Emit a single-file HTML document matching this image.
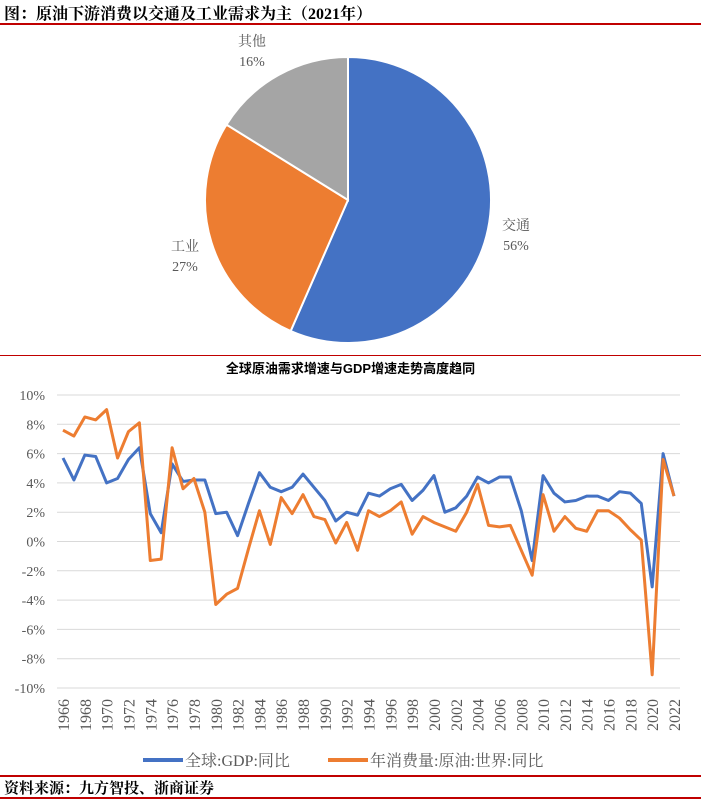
<!DOCTYPE html>
<html><head><meta charset="utf-8">
<style>
body{margin:0;background:#fff;width:701px;height:799px;overflow:hidden;position:relative;font-family:"Liberation Serif","Noto Serif CJK SC",serif}
.hd{position:absolute;left:4px;font-weight:bold;font-size:16px;color:#000;font-family:"Liberation Serif","Noto Serif CJK SC",serif}
.rl{position:absolute;left:0;width:701px;height:2px;background:#c00000}
</style></head><body>
<div class="hd" style="top:1px">图：原油下游消费以交通及工业需求为主（2021年）</div>
<div class="rl" style="top:23px"></div>
<svg style="position:absolute;left:0;top:25px" width="701" height="330" id="pie"></svg>
<div class="rl" style="top:355px;height:1px"></div>
<div style="position:absolute;top:358px;left:0;width:701px;text-align:center;font-weight:bold;font-size:13px;font-family:'Liberation Sans','Noto Sans CJK SC',sans-serif">全球原油需求增速与GDP增速走势高度趋同</div>
<svg style="position:absolute;left:0;top:0" width="701" height="775" id="lc"></svg>
<div class="rl" style="top:775px"></div>
<div class="hd" style="top:777px;font-size:15px">资料来源：九方智投、浙商证券</div>
<div class="rl" style="top:797px"></div>
<script>
const pieLabels=["交通","工业","其他"];
const pieValues=[56,27,16];
const pieColors=["#4472c4","#ed7d31","#a5a5a5"];
const years=[];for(let y=1966;y<=2022;y++)years.push(y);
const gdp=[5.7,4.2,5.9,5.8,4.0,4.3,5.6,6.4,1.9,0.6,5.3,4.1,4.2,4.2,1.9,2.0,0.4,2.6,4.7,3.7,3.4,3.7,4.6,3.7,2.8,1.4,2.0,1.8,3.3,3.1,3.6,3.9,2.8,3.5,4.5,2.0,2.3,3.1,4.4,4.0,4.4,4.4,2.1,-1.3,4.5,3.3,2.7,2.8,3.1,3.1,2.8,3.4,3.3,2.6,-3.1,6.0,3.1];
const oil=[7.6,7.2,8.5,8.3,9.0,5.7,7.5,8.1,-1.3,-1.2,6.4,3.6,4.3,2.0,-4.3,-3.6,-3.2,-0.5,2.1,-0.2,3.0,1.9,3.2,1.7,1.5,-0.1,1.3,-0.6,2.1,1.7,2.1,2.7,0.5,1.7,1.3,1.0,0.7,2.0,3.9,1.1,1.0,1.1,-0.6,-2.3,3.2,0.7,1.7,0.9,0.7,2.1,2.1,1.6,0.8,0.1,-9.1,5.6,3.1];
const yTicks=[10,8,6,4,2,0,-2,-4,-6,-8,-10];
const NS="http://www.w3.org/2000/svg";
function mk(p,t,a){const e=document.createElementNS(NS,t);for(const k in a)e.setAttribute(k,a[k]);p.appendChild(e);return e;}
const pie=document.getElementById('pie');
const cx=348,cy=175,r=143;
const tot=pieValues.reduce((a,b)=>a+b,0);
let ang=0;
const lblPos=[[516,205],[185,226],[252,21]];
pieValues.forEach((v,i)=>{
 const a0=ang/tot*2*Math.PI,a1=(ang+v)/tot*2*Math.PI;ang+=v;
 const x0=cx+r*Math.sin(a0),y0=cy-r*Math.cos(a0),x1=cx+r*Math.sin(a1),y1=cy-r*Math.cos(a1);
 const s=mk(pie,'path',{d:`M${cx},${cy}L${x0},${y0}A${r},${r} 0 ${a1-a0>Math.PI?1:0} 1 ${x1},${y1}Z`,fill:pieColors[i],stroke:'#fff','stroke-width':2});
 
 
 const t=mk(pie,'text',{x:lblPos[i][0],y:lblPos[i][1],'font-size':14,fill:'#595959','text-anchor':'middle'});
 
 
 t.textContent=pieLabels[i];
 const t2=mk(pie,'text',{x:lblPos[i][0],y:lblPos[i][1]+20,'font-size':14,fill:'#595959','text-anchor':'middle'});
 
 
 t2.textContent=v+'%';
});
const lc=document.getElementById('lc');
const X0=63,X1=674,Y10=395,Ym10=688;
const xs=y=>X0+(y-years[0])*(X1-X0)/(years[years.length-1]-years[0]);
const ys=v=>Y10+(10-v)*(Ym10-Y10)/20;
yTicks.forEach(v=>{
 const g=mk(lc,'line',{x1:57,x2:680,y1:ys(v),y2:ys(v),stroke:'#d9d9d9','stroke-width':1});
 
 
 const t=mk(lc,'text',{x:45,y:ys(v)+5,'font-size':14,fill:'#595959','text-anchor':'end'});
 
 
 t.textContent=v+'%';
});
years.forEach(y=>{if((y-1966)%2)return;
 const t=mk(lc,'text',{x:0,y:0,'font-size':16,fill:'#595959','text-anchor':'end',transform:`translate(${xs(y)+6},699) rotate(-90)`});
 
 
 t.textContent=y;
});
[[gdp,'#4472c4','gdp-line'],[oil,'#ed7d31','oil-consumption-line']].forEach(([d,c,n])=>{
 const p=mk(lc,'polyline',{points:d.map((v,i)=>xs(years[i])+','+ys(v)).join(' '),fill:'none',stroke:c,'stroke-width':3,'stroke-linejoin':'round'});
 
 
});
[[143,'#4472c4','全球:GDP:同比'],[328,'#ed7d31','年消费量:原油:世界:同比']].forEach(([x,c,l],i)=>{
 const s=mk(lc,'line',{x1:x,x2:x+40,y1:760,y2:760,stroke:c,'stroke-width':4});
 
 
 const t=mk(lc,'text',{x:x+42,y:766,'font-size':16,fill:'#595959'});
 
 
 t.textContent=l;
});
</script>
</body></html>
